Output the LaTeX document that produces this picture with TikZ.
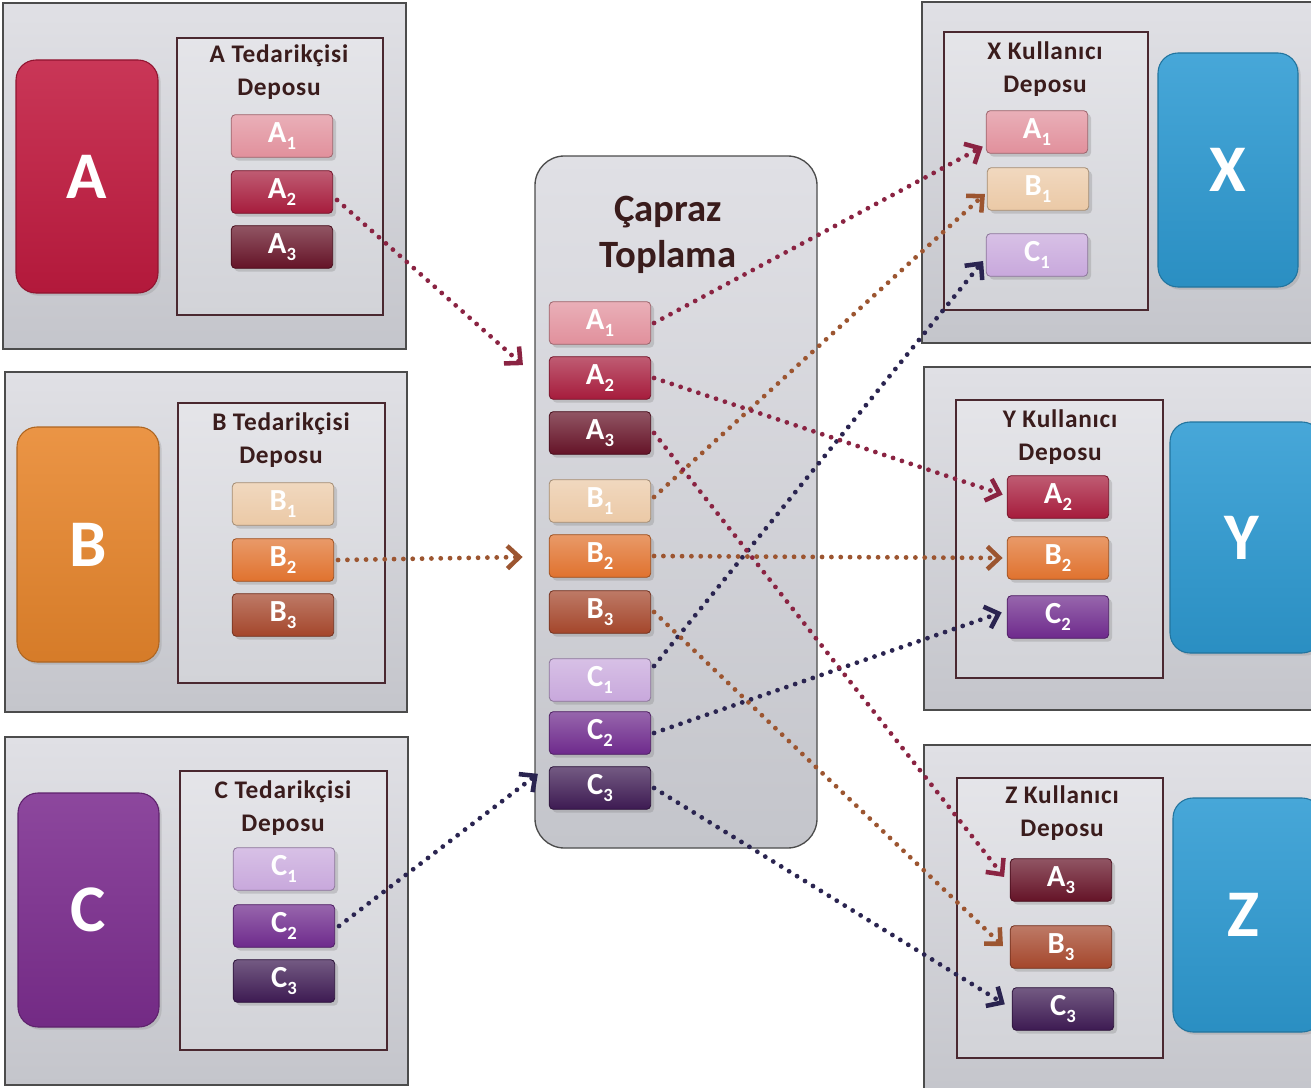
\documentclass[tikz,border=0pt]{standalone}
\usepackage{fontspec}
\setmainfont{Carlito}
\newfontfamily\ttlfont[LetterSpace=3]{Carlito}
\usetikzlibrary{arrows.meta,shadows,fit,calc}
\definecolor{colA}{HTML}{C21B40}
\definecolor{colB}{HTML}{E8862C}
\definecolor{colC}{HTML}{7D2E90}
\definecolor{colU}{HTML}{2E9BD3}
\definecolor{ia1}{HTML}{E1909C}
\definecolor{ia2}{HTML}{A61C3C}
\definecolor{ia3}{HTML}{651327}
\definecolor{ib1}{HTML}{EBC9A6}
\definecolor{ib2}{HTML}{E0722E}
\definecolor{ib3}{HTML}{A4462B}
\definecolor{ic1}{HTML}{C8A8DC}
\definecolor{ic2}{HTML}{6E2A8C}
\definecolor{ic3}{HTML}{3D1A52}
\definecolor{arA}{HTML}{8A2342}
\definecolor{arB}{HTML}{9C5530}
\definecolor{arC}{HTML}{2A2450}
\definecolor{pnlT}{HTML}{E0E0E5}
\definecolor{pnlB}{HTML}{C4C5CB}
\definecolor{depF}{HTML}{D2D3D8}
\definecolor{depD}{HTML}{4A2830}
\definecolor{ttlC}{HTML}{3A1C1C}
\newcommand\lsub[1]{\raisebox{-0.45ex}{\fontsize{14}{14}\selectfont #1}}
\begin{document}
\begin{tikzpicture}[x=0.75pt,y=-0.75pt,
  panel/.style={draw=black!70, line width=0.8pt, top color=pnlT, bottom color=pnlB, inner sep=0pt},
  depot/.style={draw=depD, line width=0.9pt, top color=pnlT!85!white, bottom color=depF, inner sep=0pt},
  hub/.style={panel, rounded corners=22pt, line width=1pt},
  big/.style={draw=#1!75!black, line width=0.8pt, rounded corners=15pt, top color=#1!88!white, bottom color=#1!92!black, inner sep=0pt, drop shadow={opacity=0.25,shadow xshift=2pt,shadow yshift=-2pt}},
  bigtxt/.style={text=white, font=\fontsize{50}{50}\selectfont\bfseries, inner sep=0pt},
  item/.style={draw=#1!70!black, line width=0.6pt, rounded corners=3pt, top color=#1!72!white, bottom color=#1, minimum width=76pt, minimum height=32pt, inner sep=0pt, text=white, font=\fontsize{23}{23}\selectfont\bfseries, drop shadow={opacity=0.3,shadow xshift=2.5pt,shadow yshift=-2.5pt}},
  ttl/.style={align=center, text=ttlC, font=\ttlfont\fontsize{19}{25}\selectfont\bfseries},
  flow/.style={draw=#1, line width=3.6pt, line cap=round, dash pattern=on 0pt off 7pt, -{Straight Barb[length=9pt,width=17pt,line width=3.4pt]}, shorten >=1pt}
]
\useasboundingbox (0,0) rectangle (1311,1088);
\clip (0,0) rectangle (1311,1088);
\fill[white] (0,0) rectangle (1311,1088);

% ---------- left supplier panels ----------
\node[panel, fit={(3,3) (406,349)}] (pA) {};
\node[panel, fit={(5,372) (407,712)}] (pB) {};
\node[panel, fit={(5,737) (408,1085)}] (pC) {};

\node[big=colA, fit={(16,60) (158,293)}] (bigA) {};
\node[big=colB, fit={(17,427) (159,662)}] (bigB) {};
\node[big=colC, fit={(18,793) (159,1027)}] (bigC) {};
\node[bigtxt] (bigAt) at (bigA.center) {A};
\node[bigtxt] (bigBt) at (bigB.center) {B};
\node[bigtxt] (bigCt) at (bigC.center) {C};

\node[depot, fit={(177,38) (383,315)}] (dA) {};
\node[depot, fit={(178,403) (385,683)}] (dB) {};
\node[depot, fit={(180,771) (387,1050)}] (dC) {};

\node[ttl] (tA) at (279,72) {A Tedarikçisi\\Deposu};
\node[ttl] (tB) at (281,440) {B Tedarikçisi\\Deposu};
\node[ttl] (tC) at (283,808) {C Tedarikçisi\\Deposu};

\node[item=ia1] (lA1) at (282,136) {A\lsub{1}};
\node[item=ia2] (lA2) at (282,192) {A\lsub{2}};
\node[item=ia3] (lA3) at (282,247) {A\lsub{3}};
\node[item=ib1] (lB1) at (283,504) {B\lsub{1}};
\node[item=ib2] (lB2) at (283,560) {B\lsub{2}};
\node[item=ib3] (lB3) at (283,615) {B\lsub{3}};
\node[item=ic1] (lC1) at (284,869) {C\lsub{1}};
\node[item=ic2] (lC2) at (284,926) {C\lsub{2}};
\node[item=ic3] (lC3) at (284,981) {C\lsub{3}};

% ---------- centre hub ----------
\node[hub, fit={(535,156) (817,848)}] (hub) {};
\node[align=center, text=ttlC, font=\fontsize{29}{34}\selectfont\bfseries] (tHub) at (668,235) {Çapraz\\Toplama};

\node[item=ia1] (mA1) at (600,323) {A\lsub{1}};
\node[item=ia2] (mA2) at (600,378) {A\lsub{2}};
\node[item=ia3] (mA3) at (600,433) {A\lsub{3}};
\node[item=ib1] (mB1) at (600,501) {B\lsub{1}};
\node[item=ib2] (mB2) at (600,556) {B\lsub{2}};
\node[item=ib3] (mB3) at (600,612) {B\lsub{3}};
\node[item=ic1] (mC1) at (600,680) {C\lsub{1}};
\node[item=ic2] (mC2) at (600,733) {C\lsub{2}};
\node[item=ic3] (mC3) at (600,788) {C\lsub{3}};

% ---------- right user panels ----------
\node[panel, fit={(922,2) (1320,343)}] (pX) {};
\node[panel, fit={(924,367) (1320,710)}] (pY) {};
\node[panel, fit={(924,745) (1320,1100)}] (pZ) {};

\node[depot, fit={(944,32) (1148,310)}] (dX) {};
\node[depot, fit={(956,400) (1163,678)}] (dY) {};
\node[depot, fit={(957,778) (1163,1058)}] (dZ) {};

\node[big=colU, fit={(1158,53) (1298,287)}] (bigX) {};
\node[big=colU, fit={(1170,422) (1322,653)}] (bigY) {};
\node[big=colU, fit={(1173,798) (1322,1032)}] (bigZ) {};
\node[bigtxt] (bigXt) at (bigX.center) {X};
\node[bigtxt] (bigYt) at (1242,538) {Y};
\node[bigtxt] (bigZt) at (1243,915) {Z};

\node[ttl] (tX) at (1045,69) {X Kullanıcı\\Deposu};
\node[ttl] (tY) at (1060,437) {Y Kullanıcı\\Deposu};
\node[ttl] (tZ) at (1062,813) {Z Kullanıcı\\Deposu};

\node[item=ia1] (xA1) at (1037,132) {A\lsub{1}};
\node[item=ib1] (xB1) at (1038,189) {B\lsub{1}};
\node[item=ic1] (xC1) at (1037,255) {C\lsub{1}};
\node[item=ia2] (yA2) at (1058,497) {A\lsub{2}};
\node[item=ib2] (yB2) at (1058,558) {B\lsub{2}};
\node[item=ic2] (yC2) at (1058,617) {C\lsub{2}};
\node[item=ia3] (zA3) at (1061,880) {A\lsub{3}};
\node[item=ib3] (zB3) at (1061,947) {B\lsub{3}};
\node[item=ic3] (zC3) at (1063,1009) {C\lsub{3}};

% ---------- connectors ----------
\coordinate (inA) at ($(mA2.west)+(-25,-12)$);
\coordinate (inB) at ($(mB2.west)+(-25,1)$);
\coordinate (inC) at ($(mC3.west)+(-10,-15)$);

\draw[flow=arA] ($(lA2.east)+(4,8)$) -- (inA);
\draw[flow=arB] ($(lB2.east)+(4,0)$) -- (inB);
\draw[flow=arC] ($(lC2.east)+(4,0)$) -- (inC);

\draw[flow=arA] ($(mA1.east)+(3,0)$) -- ($(xA1.west)+(-2,14)$);
\draw[flow=arB] ($(mB1.east)+(3,-4)$) -- ($(xB1.west)+(-1,4)$);
\draw[flow=arC] ($(mC1.east)+(3,-14)$) -- ($(xC1.west)+(-2,5)$);

\draw[flow=arA] ($(mA2.east)+(3,0)$) -- ($(yA2.west)+(-3,-2)$);
\draw[flow=arB] ($(mB2.east)+(3,0)$) -- ($(yB2.west)+(-3,0)$);
\draw[flow=arC] ($(mC2.east)+(3,0)$) -- ($(yC2.west)+(-4,-5)$);

\draw[flow=arA] ($(mA3.east)+(3,0)$) -- ($(zA3.west)+(-5,-2)$);
\draw[flow=arB] ($(mB3.east)+(3,0)$) -- ($(zB3.west)+(-6,0)$);
\draw[flow=arC] ($(mC3.east)+(3,0)$) -- ($(zC3.west)+(-6,-4)$);
\end{tikzpicture}
\end{document}
